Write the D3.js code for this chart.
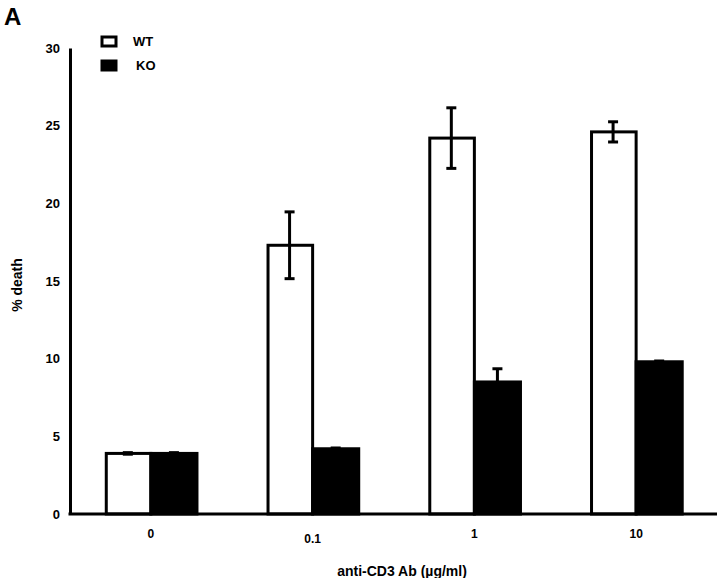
<!DOCTYPE html>
<html><head><meta charset="utf-8">
<script src="https://cdn.jsdelivr.net/npm/d3@7"></script>
<style>body{margin:0;background:#fff}svg{display:block}text{font-family:"Liberation Sans",Arial,sans-serif;font-weight:bold;fill:#000}</style>
</head><body>
<svg id="c" width="720" height="578"></svg>
<script>
const categories = ["0", "0.1", "1", "10"];
const series = ["WT", "KO"];
const wtValues = [3.9, 17.3, 24.2, 24.6];
const wtErrors = [0.05, 2.15, 1.95, 0.65];
const koValues = [3.9, 4.2, 8.5, 9.8];
const koErrors = [0.05, 0.05, 0.85, 0.05];
const yTicks = [0, 5, 10, 15, 20, 25, 30];

(function () {
const svg = d3.select("#c");
const mL = 70, mR = 717, mT = 48, mB = 514;
const x0 = d3.scaleBand().domain(categories).range([mL, mR]).paddingInner(0.43).paddingOuter(0.215);
const x1 = d3.scaleBand().domain(series).range([0, x0.bandwidth()]);
const y = d3.scaleLinear().domain([0, 30]).range([mB, mT]);

const data = categories.map((c, i) => ({c, vals: [
  {s: "WT", v: wtValues[i], e: wtErrors[i]},
  {s: "KO", v: koValues[i], e: koErrors[i]}
]}));

const g = svg.selectAll("g.grp").data(data).enter().append("g")
  .attr("transform", d => `translate(${x0(d.c)},0)`);

g.selectAll("rect").data(d => d.vals).enter().append("rect")
  .attr("x", d => x1(d.s) + (d.s === "WT" ? 1.5 : 0))
  .attr("y", d => y(d.v))
  .attr("width", d => x1.bandwidth() - (d.s === "WT" ? 1.5 : 0))
  .attr("height", d => y(0) - y(d.v))
  .attr("fill", d => d.s === "WT" ? "#fff" : "#000")
  .attr("stroke", "#000").attr("stroke-width", 3);

// error bars
const eb = g.selectAll("g.eb").data(d => d.vals).enter().append("g")
  .attr("stroke", "#000").attr("stroke-width", 3);
const cx = d => x1(d.s) + x1.bandwidth() / 2;
eb.append("line").attr("x1", cx).attr("x2", cx)
  .attr("y1", d => y(d.v + d.e)).attr("y2", d => y(d.v - d.e));
eb.append("line").attr("x1", d => cx(d) - 5).attr("x2", d => cx(d) + 5)
  .attr("y1", d => y(d.v + d.e)).attr("y2", d => y(d.v + d.e));
eb.append("line").attr("x1", d => cx(d) - 5).attr("x2", d => cx(d) + 5)
  .attr("y1", d => y(d.v - d.e)).attr("y2", d => y(d.v - d.e));

// axes
const yAxis = svg.append("g").attr("transform", `translate(${mL},0)`)
  .call(d3.axisLeft(y).tickValues(yTicks).tickSize(0).tickPadding(10));
yAxis.select(".domain").attr("stroke", "#000").attr("stroke-width", 3);
yAxis.selectAll("text").style("font-size", "13px").style("font-family", '"Liberation Sans",Arial,sans-serif').style("font-weight", "bold");

const xAxis = svg.append("g").attr("transform", `translate(0,${mB})`)
  .call(d3.axisBottom(x0).tickSize(0).tickPadding(15));
xAxis.select(".domain").attr("stroke", "#000").attr("stroke-width", 3).attr("d", `M${mL - 1.5},0H${mR}`);
xAxis.selectAll("text").style("font-size", "12px").style("font-family", '"Liberation Sans",Arial,sans-serif').style("font-weight", "bold")
  .attr("dy", (d, i) => i === 1 ? "1.2em" : "0.71em");

// titles
svg.append("text").attr("transform", "translate(22,285) rotate(-90)").attr("text-anchor", "middle")
  .style("font-size", "14px").text("% death");
svg.append("text").attr("x", 402).attr("y", 576).attr("text-anchor", "middle")
  .style("font-size", "14px").text("anti-CD3 Ab (\u00b5g/ml)");
svg.append("text").attr("x", 4).attr("y", 25).style("font-size", "24px").text("A");

// legend
const leg = svg.append("g");
series.forEach((s, i) => {
  const ly = 36 + i * 24;
  leg.append("rect").attr("x", 102).attr("y", ly + 1).attr("width", 14).attr("height", 9)
    .attr("fill", s === "WT" ? "#fff" : "#000").attr("stroke", "#000").attr("stroke-width", 3);
  leg.append("text").attr("x", s === "WT" ? 133 : 136).attr("y", ly + 10).style("font-size", "13px").text(s);
});
})();
</script>
</body></html>
